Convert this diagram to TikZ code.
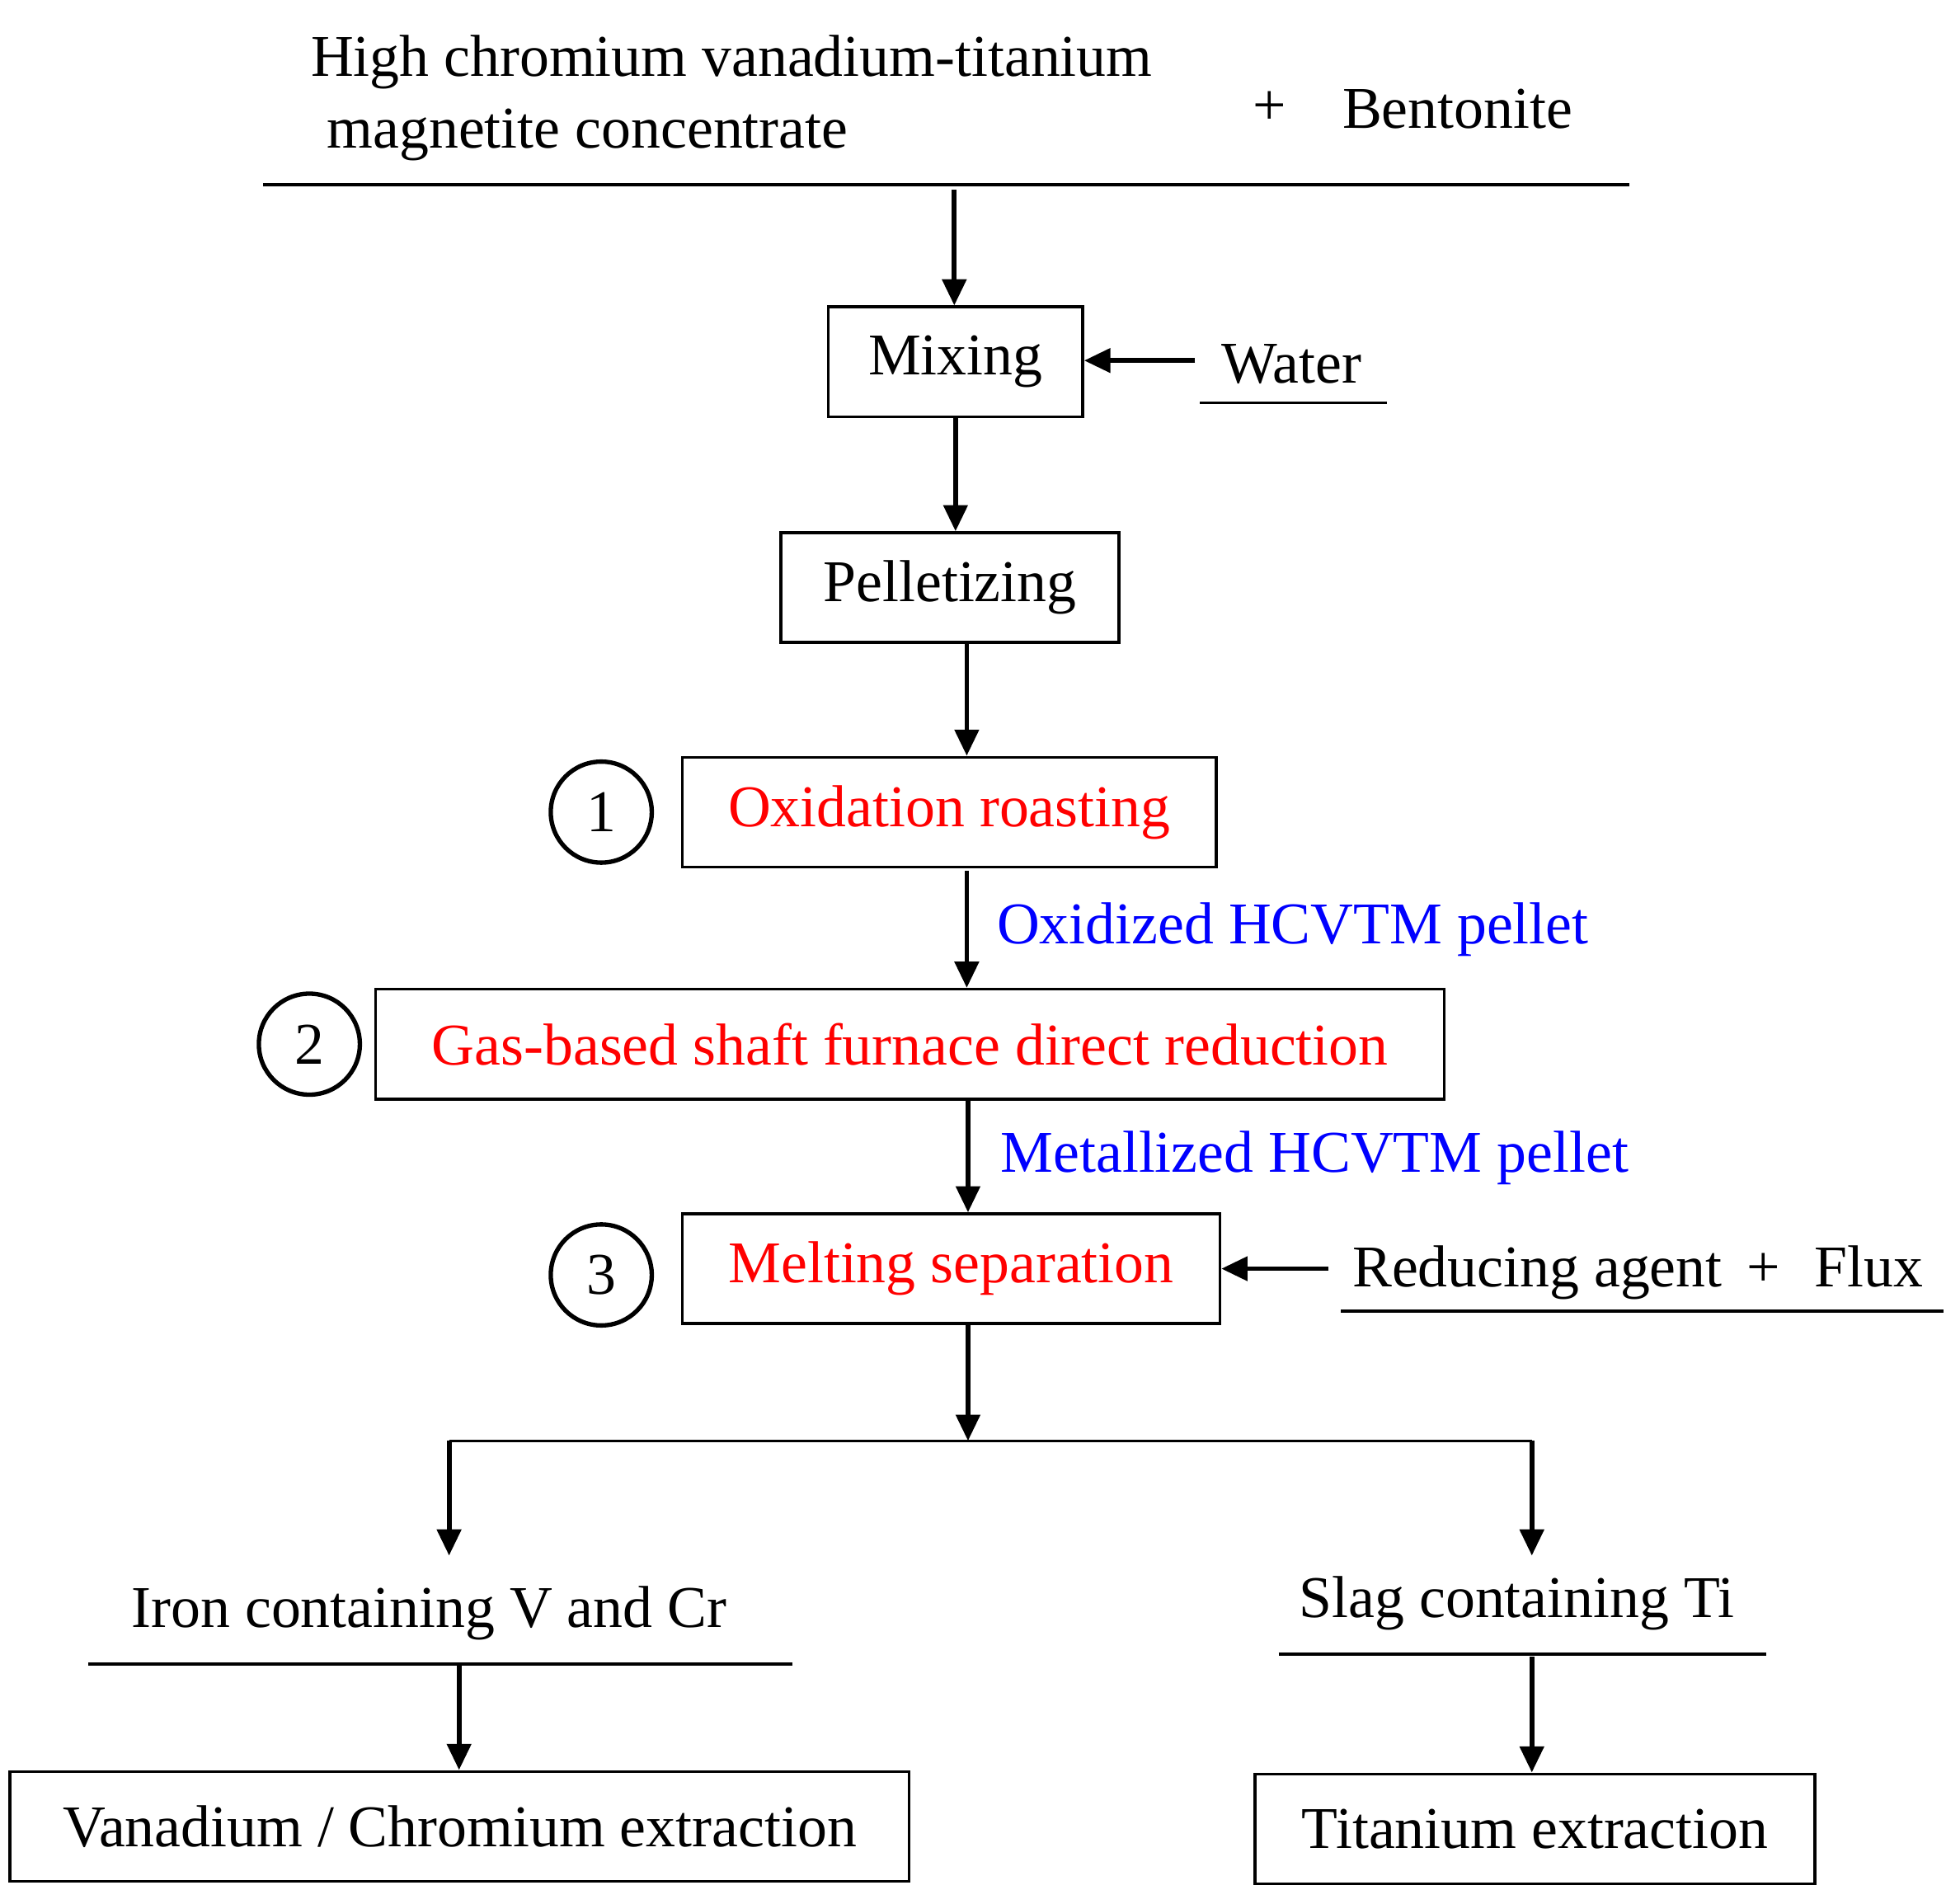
\documentclass[tikz,border=0pt]{standalone}
\usepackage{fontspec}
\setmainfont{Liberation Serif}
\usetikzlibrary{arrows.meta}
\begin{document}
\begin{tikzpicture}[x=0.02cm,y=-0.02cm,
  every node/.style={font=\fontsize{27}{32}\selectfont},
  box/.style={draw,line width=1.3pt,inner sep=0pt},
  num/.style={draw,circle,line width=2pt,minimum size=1.62cm,inner sep=0pt},
  arr/.style={line width=2.2pt,-{Triangle[length=0.42cm,width=0.38cm]}},
  ul/.style={line width=1.3pt},
  red/.style={text=red}, blu/.style={text=blue}]
\useasboundingbox (0,0) rectangle (1560,1526);
% top
\node[anchor=west] (t1) at (243,50) {High chromium vanadium-titanium};
\node[anchor=west] (t2) at (256,108) {magnetite concentrate};
\node (plus1) at (1018,87) {+};
\node[anchor=west] (bent) at (1070,87) {Bentonite};
\coordinate (tl) at (211,148); \coordinate (tr) at (1306,148);
\draw[ul] (tl) -- (tr);
\coordinate (a0) at (765,152);
% boxes
\node[box,minimum width=4.08cm,minimum height=1.76cm] (mix) at (766,290) {Mixing};
\node[box,minimum width=5.42cm,minimum height=1.76cm] (pel) at (761.5,471) {Pelletizing};
\node[box,minimum width=8.56cm,minimum height=1.76cm,red] (ox) at (761,651) {Oxidation roasting};
\node[box,minimum width=17.14cm,minimum height=1.76cm,red] (gas) at (729.5,837) {Gas-based shaft furnace direct reduction};
\node[box,minimum width=8.62cm,minimum height=1.76cm,red] (melt) at (762.5,1017) {Melting separation};
\node[box,minimum width=14.42cm,minimum height=1.76cm] (van) at (368.5,1464) {Vanadium / Chromium extraction};
\node[box,minimum width=8.98cm,minimum height=1.76cm] (ti) at (1230.5,1466) {Titanium extraction};
% circles
\node[num] (c1) at (482,651) {1};
\node[num] (c2) at (248,837) {2};
\node[num] (c3) at (482,1022) {3};
% side inputs
\node[anchor=west] (water) at (973,292) {Water};
\draw[ul] (962,323) coordinate (wl) -- (1112,323) coordinate (wr);
\coordinate (wa) at (958,289);
\draw[arr] (wa) -- (mix.east|-wa);
\node[anchor=west] (red) at (1078,1020) {Reducing agent \,+\,\, Flux};
\draw[ul] (1075,1051) coordinate (rl) -- (1558,1051) coordinate (rr);
\coordinate (ra) at (1065,1017);
\draw[arr] (ra) -- (melt.east|-ra);
% main chain
\draw[arr] (a0) -- (a0|-mix.north);
\draw[arr] (mix.south) -- (mix.south|-pel.north);
\coordinate (p1) at (775,515);
\draw[arr] (p1) -- (p1|-ox.north);
\coordinate (p2) at (775,698);
\draw[arr] (p2) -- (p2|-gas.north);
\node[anchor=west,blu] (oxl) at (793,745) {Oxidized HCVTM pellet};
\coordinate (p3) at (776,881);
\draw[arr] (p3) -- (p3|-melt.north);
\node[anchor=west,blu] (metl) at (796,928) {Metallized HCVTM pellet};
\coordinate (p4) at (776,1061); \coordinate (j) at (776,1155);
\draw[arr] (p4) -- (j);
\coordinate (jl) at (360,1155); \coordinate (jr) at (1228,1155);
\draw[line width=1.3pt] (jl) -- (jr);
\coordinate (el) at (360,1247); \coordinate (er) at (1228,1247);
\draw[arr] (jl) -- (el);
\draw[arr] (jr) -- (er);
% products
\node (iron) at (344,1293) {Iron containing V and Cr};
\draw[ul] (71,1334) coordinate (il) -- (635,1334) coordinate (ir);
\node (slag) at (1216,1285) {Slag containing Ti};
\draw[ul] (1025,1326) coordinate (sl) -- (1416,1326) coordinate (sr);
\coordinate (q1) at (368,1334);
\draw[arr] (q1) -- (q1|-van.north);
\coordinate (q2) at (1228,1328);
\draw[arr] (q2) -- (q2|-ti.north);
\end{tikzpicture}
\end{document}
